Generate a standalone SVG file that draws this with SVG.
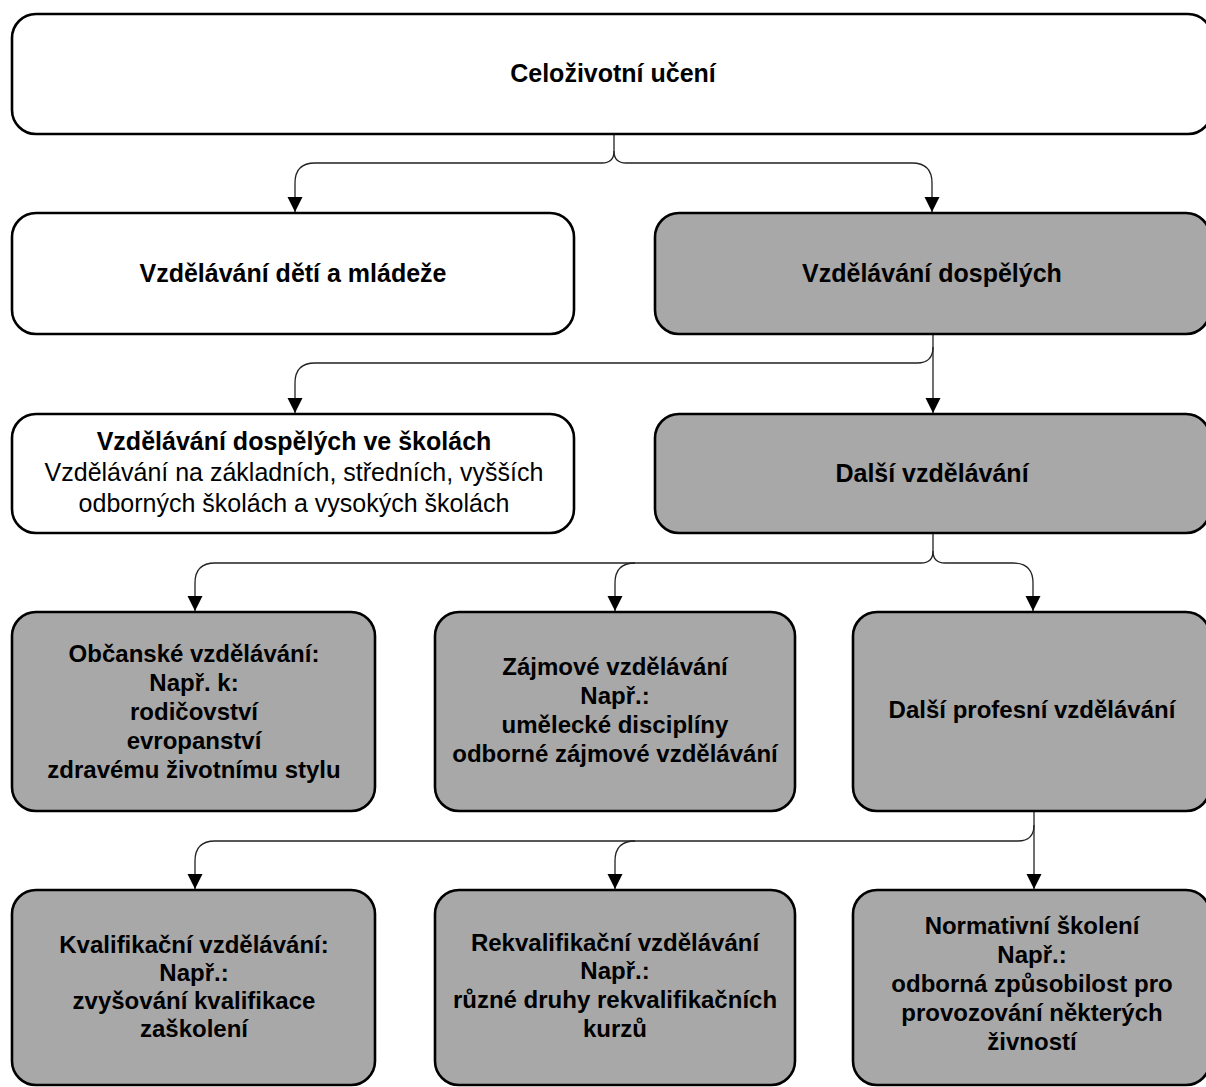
<svg xmlns="http://www.w3.org/2000/svg" width="1206" height="1087" viewBox="0 0 1206 1087">
<defs>
<style>
.box{stroke:#000;stroke-width:2.6}
.white{fill:#fff}
.gray{fill:#a8a8a8}
text{font-family:"Liberation Sans",Arial,sans-serif;font-size:25px;fill:#000;text-anchor:middle}
.b{font-weight:bold}
.g{font-size:24px;font-weight:bold}
.con{fill:none;stroke:#222;stroke-width:1.3}
</style>
<marker id="arr" markerUnits="userSpaceOnUse" markerWidth="16" markerHeight="16" refX="15" refY="7.5" orient="auto">
<path d="M0,0 L15,7.5 L0,15 Z" fill="#000"/>
</marker>
</defs>
<rect width="1206" height="1087" fill="#fff"/>

<g id="connectors">
<path class="con" d="M614,134 V151 Q614,163 602,163 H315 Q295,163 295,183 V212" marker-end="url(#arr)"/>
<path class="con" d="M614,151 Q614,163 626,163 H912 Q932,163 932,183 V212" marker-end="url(#arr)"/>
<path class="con" d="M933,334 V413" marker-end="url(#arr)"/>
<path class="con" d="M933,347 Q933,363 917,363 H315 Q295,363 295,383 V413" marker-end="url(#arr)"/>
<path class="con" d="M933,533 V551 Q933,563 921,563 H215 Q195,563 195,583 V611" marker-end="url(#arr)"/>
<path class="con" d="M635,563 Q615,563 615,583 V611" marker-end="url(#arr)"/>
<path class="con" d="M933,551 Q933,563 945,563 H1013 Q1033,563 1033,583 V611" marker-end="url(#arr)"/>
<path class="con" d="M1034,811 V889" marker-end="url(#arr)"/>
<path class="con" d="M1034,825 Q1034,841 1018,841 H215 Q195,841 195,861 V889" marker-end="url(#arr)"/>
<path class="con" d="M635,841 Q615,841 615,861 V889" marker-end="url(#arr)"/>
</g>

<g id="n-celozivotni">
<rect class="box white" x="12" y="14" width="1200" height="120" rx="24"/>
<text class="b" x="613" y="82">Celoživotní učení</text>
</g>

<g id="n-deti">
<rect class="box white" x="12" y="213" width="562" height="121" rx="24"/>
<text class="b" x="293" y="282">Vzdělávání dětí a mládeže</text>
</g>

<g id="n-dospelych">
<rect class="box gray" x="655" y="213" width="555" height="121" rx="24"/>
<text class="b" x="932" y="282">Vzdělávání dospělých</text>
</g>

<g id="n-skoly">
<rect class="box white" x="12" y="414" width="562" height="119" rx="24"/>
<text class="b" x="294" y="450">Vzdělávání dospělých ve školách</text>
<text x="294" y="481">Vzdělávání na základních, středních, vyšších</text>
<text x="294" y="512">odborných školách a vysokých školách</text>
</g>

<g id="n-dalsi">
<rect class="box gray" x="655" y="414" width="555" height="119" rx="24"/>
<text class="b" x="932" y="482">Další vzdělávání</text>
</g>

<g id="n-obcanske">
<rect class="box gray" x="12" y="612" width="363" height="199" rx="24"/>
<text class="g" x="194" y="662">Občanské vzdělávání:</text>
<text class="g" x="194" y="691">Např. k:</text>
<text class="g" x="194" y="720">rodičovství</text>
<text class="g" x="194" y="749">evropanství</text>
<text class="g" x="194" y="778">zdravému životnímu stylu</text>
</g>

<g id="n-zajmove">
<rect class="box gray" x="435" y="612" width="360" height="199" rx="24"/>
<text class="g" x="615" y="675">Zájmové vzdělávání</text>
<text class="g" x="615" y="704">Např.:</text>
<text class="g" x="615" y="733">umělecké disciplíny</text>
<text class="g" x="615" y="762">odborné zájmové vzdělávání</text>
</g>

<g id="n-profesni">
<rect class="box gray" x="853" y="612" width="357" height="199" rx="24"/>
<text class="g" x="1032" y="718">Další profesní vzdělávání</text>
</g>

<g id="n-kvalifikacni">
<rect class="box gray" x="12" y="890" width="363" height="195" rx="24"/>
<text class="g" x="194" y="953">Kvalifikační vzdělávání:</text>
<text class="g" x="194" y="981">Např.:</text>
<text class="g" x="194" y="1009">zvyšování kvalifikace</text>
<text class="g" x="194" y="1037">zaškolení</text>
</g>

<g id="n-rekvalifikacni">
<rect class="box gray" x="435" y="890" width="360" height="195" rx="24"/>
<text class="g" x="615" y="951">Rekvalifikační vzdělávání</text>
<text class="g" x="615" y="979">Např.:</text>
<text class="g" x="615" y="1008">různé druhy rekvalifikačních</text>
<text class="g" x="615" y="1037">kurzů</text>
</g>

<g id="n-normativni">
<rect class="box gray" x="853" y="890" width="357" height="195" rx="24"/>
<text class="g" x="1032" y="934">Normativní školení</text>
<text class="g" x="1032" y="963">Např.:</text>
<text class="g" x="1032" y="992">odborná způsobilost pro</text>
<text class="g" x="1032" y="1021">provozování některých</text>
<text class="g" x="1032" y="1050">živností</text>
</g>
</svg>
